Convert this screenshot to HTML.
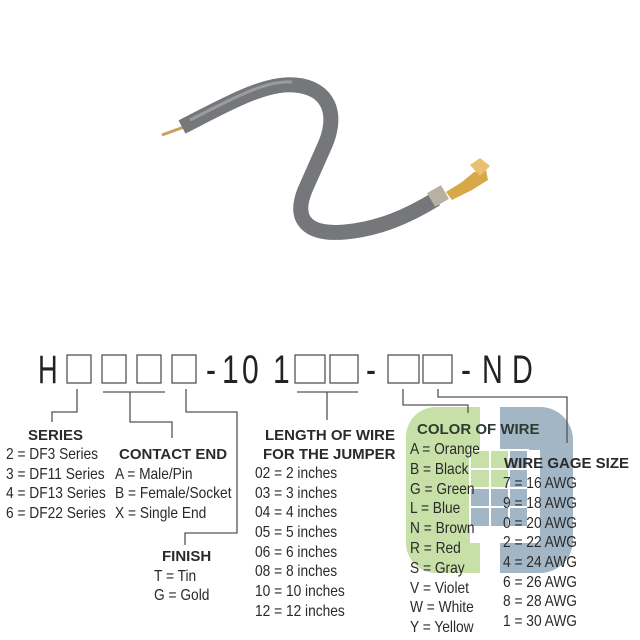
<!DOCTYPE html>
<html><head><meta charset="utf-8"><style>
html,body{margin:0;padding:0;background:#fff;}
svg{display:block;}
text{font-family:"Liberation Sans",sans-serif;fill:#2a2a2a;}
.i{font-size:16px;}
.h{font-size:15px;font-weight:bold;}
.t{font-size:40px;fill:#222;}
</style></head><body>
<svg width="640" height="640" viewBox="0 0 640 640" xmlns="http://www.w3.org/2000/svg">
<!-- wire -->
<line x1="162" y1="135" x2="184" y2="127" stroke="#c9a25c" stroke-width="3"/>
<path d="M182,127 C225,105 265,82 295,85 C330,88 338,115 325,145 L305,190 C292,222 310,235 345,232 C380,229 410,215 436,199" fill="none" stroke="#75777b" stroke-width="15"/>
<path d="M190,120 C230,100 265,80 292,82" fill="none" stroke="#9a9c9f" stroke-width="3"/>
<rect x="430" y="188" width="16" height="16" fill="#b8b0a0" transform="rotate(-30 438 196)"/>
<polygon points="446,192 462,182 474,172 486,170 488,180 472,190 452,200" fill="#d6a848"/>
<polygon points="470,165 480,158 490,166 480,176" fill="#e8c070"/>
<!-- logo -->
<path d="M436,407 H480 V450 H470 V543 H480 V573 H436 A30,30 0 0 1 406,543 V437 A30,30 0 0 1 436,407 Z" fill="#c6e0a8"/>
<path d="M500,407 H540 A33,33 0 0 1 573,440 V540 A33,33 0 0 1 540,573 H500 V543 H540 V450 H500 Z" fill="#a3b6c5"/>
<g stroke="#fff" stroke-width="2">
<rect x="470" y="450" width="20" height="19" fill="#c6e0a8"/><rect x="490" y="450" width="19" height="19" fill="#c6e0a8"/><rect x="509" y="450" width="19" height="19" fill="#a3b6c5"/>
<rect x="470" y="469" width="20" height="19" fill="#c6e0a8"/><rect x="490" y="469" width="19" height="19" fill="#c6e0a8"/><rect x="509" y="469" width="19" height="19" fill="#a3b6c5"/>
<rect x="470" y="488" width="20" height="19" fill="#a3b6c5"/><rect x="490" y="488" width="19" height="19" fill="#a3b6c5"/><rect x="509" y="488" width="19" height="19" fill="#a3b6c5"/>
<rect x="470" y="507" width="20" height="20" fill="#a3b6c5"/><rect x="490" y="507" width="19" height="20" fill="#a3b6c5"/><rect x="509" y="507" width="19" height="20" fill="#a3b6c5"/>
</g>
<!-- title -->
<text class="t" x="38" y="383" transform="translate(38 0) scale(0.68 1) translate(-38 0)">H</text>
<text class="t" x="206" y="383" transform="translate(206 0) scale(0.75 1) translate(-206 0)">-</text>
<text class="t" x="222" y="383" transform="translate(222 0) scale(0.75 1) translate(-222 0)">1</text>
<text class="t" x="242" y="383" transform="translate(242 0) scale(0.75 1) translate(-242 0)">0</text>
<text class="t" x="273" y="383" transform="translate(273 0) scale(0.75 1) translate(-273 0)">1</text>
<text class="t" x="366" y="383" transform="translate(366 0) scale(0.75 1) translate(-366 0)">-</text>
<text class="t" x="461" y="383" transform="translate(461 0) scale(0.75 1) translate(-461 0)">-</text>
<text class="t" x="482" y="383" transform="translate(482 0) scale(0.72 1) translate(-482 0)">N</text>
<text class="t" x="512" y="383" transform="translate(512 0) scale(0.72 1) translate(-512 0)">D</text>
<g fill="none" stroke="#555" stroke-width="1.3">
<rect x="67" y="355" width="24" height="28"/><rect x="102" y="355" width="24" height="28"/><rect x="137" y="355" width="24" height="28"/><rect x="172" y="355" width="24" height="28"/>
<rect x="295" y="355" width="30" height="28"/><rect x="330" y="355" width="28" height="28"/>
<rect x="388" y="355" width="31" height="28"/><rect x="423" y="355" width="29" height="28"/>
<polyline points="77,389 77,412 52,412 52,422"/>
<line x1="103" y1="392" x2="165" y2="392"/><polyline points="130,392 130,422 172,422 172,438"/>
<polyline points="186,389 186,412 237,412 237,533 185,533 185,545"/>
<line x1="297" y1="392" x2="358" y2="392"/><line x1="327" y1="392" x2="327" y2="420"/>
<polyline points="403,389 403,405 468,405 468,413"/>
<polyline points="438,389 438,397 567,397 567,443"/>
</g>
<!-- headers -->
<text class="h" x="28" y="440">SERIES</text>
<text class="h" x="119" y="459">CONTACT END</text>
<text class="h" x="162" y="561">FINISH</text>
<text class="h" x="265" y="440">LENGTH OF WIRE</text>
<text class="h" x="263" y="459">FOR THE JUMPER</text>
<text class="h" x="417" y="434" style="fill:#2f3b30">COLOR OF WIRE</text>
<text class="h" x="504" y="468">WIRE GAGE SIZE</text>
<!-- items -->
<g transform="translate(6 0) scale(0.86 1)">
<text class="i" x="0" y="459">2 = DF3 Series</text>
<text class="i" x="0" y="479">3 = DF11 Series</text>
<text class="i" x="0" y="498">4 = DF13 Series</text>
<text class="i" x="0" y="518">6 = DF22 Series</text>
</g>
<g transform="translate(115 0) scale(0.86 1)">
<text class="i" x="0" y="479">A = Male/Pin</text>
<text class="i" x="0" y="498">B = Female/Socket</text>
<text class="i" x="0" y="518">X = Single End</text>
</g>
<g transform="translate(154 0) scale(0.86 1)">
<text class="i" x="0" y="581">T = Tin</text>
<text class="i" x="0" y="600">G = Gold</text>
</g>
<g transform="translate(255 0) scale(0.86 1)">
<text class="i" x="0" y="478">02 = 2 inches</text>
<text class="i" x="0" y="498">03 = 3 inches</text>
<text class="i" x="0" y="517">04 = 4 inches</text>
<text class="i" x="0" y="537">05 = 5 inches</text>
<text class="i" x="0" y="557">06 = 6 inches</text>
<text class="i" x="0" y="576">08 = 8 inches</text>
<text class="i" x="0" y="596">10 = 10 inches</text>
<text class="i" x="0" y="616">12 = 12 inches</text>
</g>
<g transform="translate(410 0) scale(0.86 1)">
<text class="i" x="0" y="454">A = Orange</text>
<text class="i" x="0" y="474">B = Black</text>
<text class="i" x="0" y="494">G = Green</text>
<text class="i" x="0" y="513">L = Blue</text>
<text class="i" x="0" y="533">N = Brown</text>
<text class="i" x="0" y="553">R = Red</text>
<text class="i" x="0" y="573">S = Gray</text>
<text class="i" x="0" y="593">V = Violet</text>
<text class="i" x="0" y="612">W = White</text>
<text class="i" x="0" y="632">Y = Yellow</text>
</g>
<g transform="translate(503 0) scale(0.86 1)">
<text class="i" x="0" y="488">7 = 16 AWG</text>
<text class="i" x="0" y="508">9 = 18 AWG</text>
<text class="i" x="0" y="528">0 = 20 AWG</text>
<text class="i" x="0" y="547">2 = 22 AWG</text>
<text class="i" x="0" y="567">4 = 24 AWG</text>
<text class="i" x="0" y="587">6 = 26 AWG</text>
<text class="i" x="0" y="606">8 = 28 AWG</text>
<text class="i" x="0" y="626">1 = 30 AWG</text>
</g>
</svg>
</body></html>
